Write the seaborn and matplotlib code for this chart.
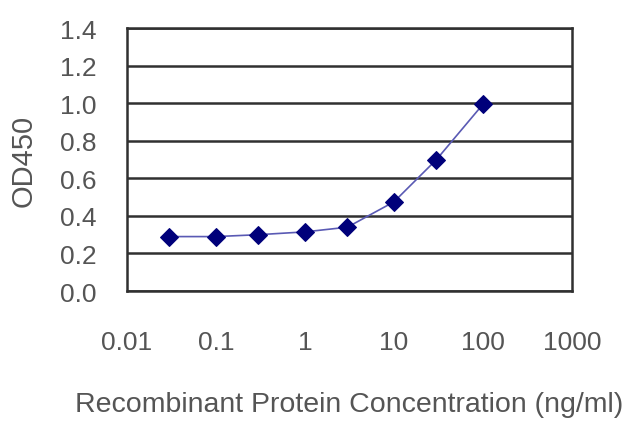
import numpy as np
import pandas as pd
import matplotlib
matplotlib.use("Agg")
import matplotlib.pyplot as plt
from matplotlib.ticker import FixedLocator, FixedFormatter, NullLocator
import seaborn as sns

concentration = [0.03, 0.1, 0.3, 1, 3, 10, 30, 100]
od450 = [0.29, 0.29, 0.30, 0.315, 0.34, 0.475, 0.70, 0.995]
x_ticks = [0.01, 0.1, 1, 10, 100, 1000]
x_tick_labels = ["0.01", "0.1", "1", "10", "100", "1000"]
y_ticks = [0.0, 0.2, 0.4, 0.6, 0.8, 1.0, 1.2, 1.4]

sns.set_style("white")
plt.rcParams["font.family"] = ["Liberation Sans", "DejaVu Sans"]

df = pd.DataFrame({"conc": concentration, "od": od450})

fig = plt.figure(figsize=(6.4, 4.27), dpi=100)
ax = fig.add_axes([0.198, 0.316, 0.696, 0.616])

text_color = "#555555"
line_color = "#303030"

ax.set_xscale("log")
ax.set_xlim(0.01, 1000)
ax.set_ylim(0, 1.4)

for y in y_ticks:
    ax.axhline(y, color=line_color, lw=1.8, zorder=1)

sns.lineplot(data=df, x="conc", y="od", ax=ax, color="#5a5ab4", lw=1.2,
             marker="D", markersize=9.5, markerfacecolor="#00007a",
             markeredgecolor="#00007a", zorder=3)

ax.xaxis.set_major_locator(FixedLocator(x_ticks))
ax.xaxis.set_major_formatter(FixedFormatter(x_tick_labels))
ax.xaxis.set_minor_locator(NullLocator())
ax.set_yticks(y_ticks)
ax.set_yticklabels([f"{v:.1f}" for v in y_ticks])

ax.tick_params(axis="x", direction="in", length=6, width=1.2, color=line_color,
               pad=28, labelsize=19, labelcolor=text_color)
ax.tick_params(axis="y", direction="out", length=3, width=1.2, color=line_color,
               pad=19, labelsize=19, labelcolor=text_color)

for side in ["left", "bottom", "right", "top"]:
    ax.spines[side].set_visible(True)
    ax.spines[side].set_color(line_color)
    ax.spines[side].set_linewidth(1.8)

ax.set_xlabel("Recombinant Protein Concentration (ng/ml)", fontsize=20.5, color=text_color)
ax.set_ylabel("OD450", fontsize=21, color=text_color)
ax.xaxis.set_label_coords(0.5, -0.38)
ax.yaxis.set_label_coords(-0.2, 0.5)

fig.savefig("out.png", dpi=100)
